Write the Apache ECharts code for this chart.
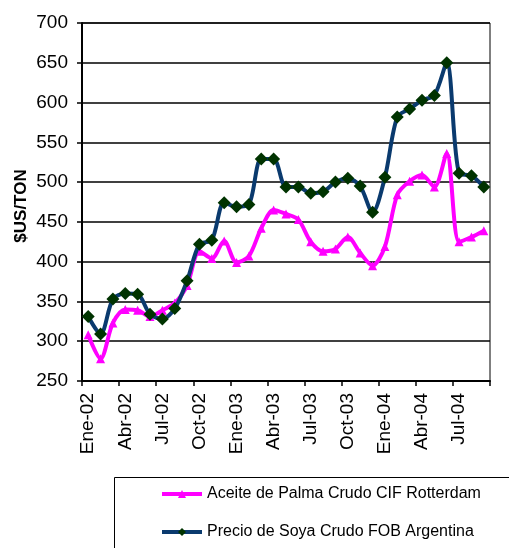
<!DOCTYPE html>
<html>
<head>
<meta charset="utf-8">
<script src="https://cdn.jsdelivr.net/npm/echarts@6/dist/echarts.min.js"></script>
<style>
html,body{margin:0;padding:0;background:#fff;}
#chart{width:509px;height:548px;}
</style>
</head>
<body>
<div id="chart"></div>
<script>
const months = ["Ene-02","Feb-02","Mar-02","Abr-02","May-02","Jun-02","Jul-02","Ago-02","Sep-02","Oct-02","Nov-02","Dic-02",
  "Ene-03","Feb-03","Mar-03","Abr-03","May-03","Jun-03","Jul-03","Ago-03","Sep-03","Oct-03","Nov-03","Dic-03",
  "Ene-04","Feb-04","Mar-04","Abr-04","May-04","Jun-04","Jul-04","Ago-04","Sep-04"];
const palma = [308,278,323,340,339,331,339,348,370,413,404,426,399,407,442,465,460,453,425,413,416,431,411,395,419,484,501,509,494,536,425,431,439];
const soya = [331,309,353,360,359,334,328,341,376,422,427,474,469,472,529,529,494,494,486,488,500,505,495,462,506,582,592,603,609,650,511,508,494];
const yTicks = {min:250, max:700, interval:50};
const seriesNames = ["Aceite de Palma Crudo CIF Rotterdam","Precio de Soya Crudo FOB Argentina"];
const yTitle = "$US/TON";

const chart = echarts.init(document.getElementById('chart'), null, {renderer:'canvas'});
const font = 'Liberation Sans, Arial, sans-serif';
const legendBase = {orient:'vertical', left:160, itemWidth:40, itemHeight:10, padding:0,
    lineStyle:{width:4},
    textStyle:{fontSize:16,color:'#000',fontFamily:font}};
chart.setOption({
  backgroundColor:'#fff',
  animation:false,
  textStyle:{fontFamily:font},
  grid:{left:82,right:19,top:23,bottom:167,show:true,borderColor:'#000',borderWidth:1,backgroundColor:'transparent'},
  legend:[
    Object.assign({}, legendBase, {top:486, data:[seriesNames[0]]}),
    Object.assign({}, legendBase, {top:524, data:[seriesNames[1]]})
  ],
  graphic:[
    {type:'rect', left:112, top:475, shape:{width:420,height:100}, style:{fill:'none',stroke:'#000',lineWidth:1}, z:-1},
    {type:'text', x:21, y:206, rotation:Math.PI/2, style:{text:yTitle, font:'bold 17px '+font, fill:'#000', textAlign:'center', textVerticalAlign:'middle'}}
  ],
  xAxis:{
    type:'category', data:months, boundaryGap:true,
    axisLine:{lineStyle:{color:'#000',width:2}},
    axisTick:{show:true,interval:2,length:5,lineStyle:{color:'#000',width:1.5}},
    axisLabel:{interval:2,rotate:90,margin:12,fontSize:19,color:'#000',fontFamily:font},
    splitLine:{show:false}
  },
  yAxis:{
    type:'value', min:yTicks.min, max:yTicks.max, interval:yTicks.interval,
    axisLine:{show:true,lineStyle:{color:'#000',width:2}},
    axisTick:{show:true,inside:false,length:5,lineStyle:{color:'#000',width:1.5}},
    axisLabel:{fontSize:19,color:'#000',margin:14,fontFamily:font},
    splitLine:{show:true,lineStyle:{color:'#000',width:1.5}}
  },
  series:[
    {name:seriesNames[0], type:'line', data:palma, smooth:0.3, showAllSymbol:true,
     lineStyle:{color:'#FF00FF',width:4}, itemStyle:{color:'#FF00FF'},
     symbol:'triangle', symbolSize:9, z:2},
    {name:seriesNames[1], type:'line', data:soya, smooth:0.3, showAllSymbol:true,
     lineStyle:{color:'#0A3A6E',width:4}, itemStyle:{color:'#003300'},
     symbol:'diamond', symbolSize:13, z:3}
  ]
});
</script>
</body>
</html>
